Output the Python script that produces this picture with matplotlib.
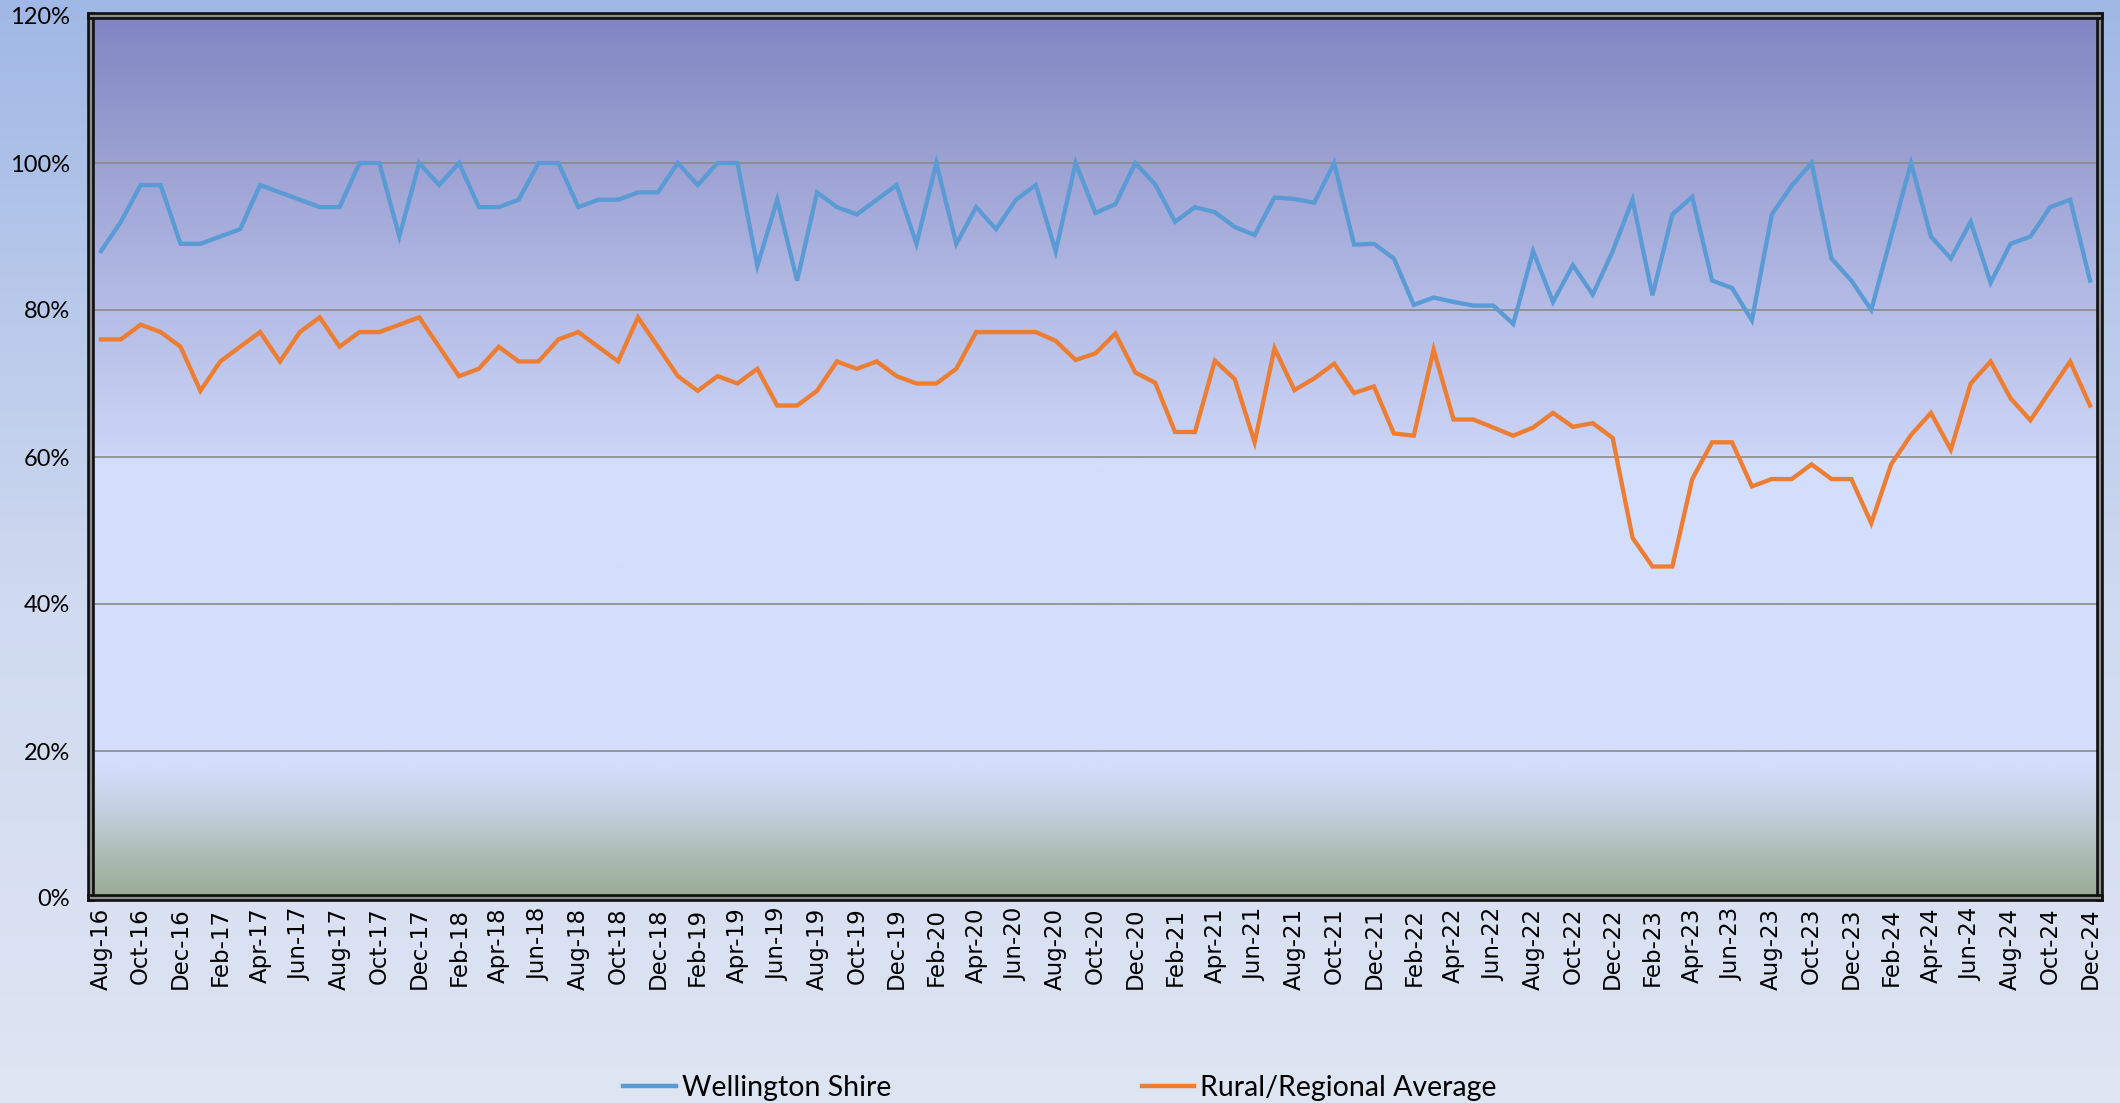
import numpy as np
import matplotlib
matplotlib.use("Agg")
import matplotlib.pyplot as plt
from matplotlib import patheffects as pe
from matplotlib.lines import Line2D

# ---------------- data ----------------
tick_labels = [
    "Aug-16", "Oct-16", "Dec-16", "Feb-17", "Apr-17", "Jun-17", "Aug-17", "Oct-17", "Dec-17",
    "Feb-18", "Apr-18", "Jun-18", "Aug-18", "Oct-18", "Dec-18",
    "Feb-19", "Apr-19", "Jun-19", "Aug-19", "Oct-19", "Dec-19",
    "Feb-20", "Apr-20", "Jun-20", "Aug-20", "Oct-20", "Dec-20",
    "Feb-21", "Apr-21", "Jun-21", "Aug-21", "Oct-21", "Dec-21",
    "Feb-22", "Apr-22", "Jun-22", "Aug-22", "Oct-22", "Dec-22",
    "Feb-23", "Apr-23", "Jun-23", "Aug-23", "Oct-23", "Dec-23",
    "Feb-24", "Apr-24", "Jun-24", "Aug-24", "Oct-24", "Dec-24",
]

wellington = [
    88, 92, 97, 97, 89, 89, 90, 91, 97, 96, 95, 94, 94, 100, 100, 90, 100, 97, 100, 94,
    94, 95, 100, 100, 94, 95, 95, 96, 96, 100, 97, 100, 100, 86, 95, 84, 96, 94, 93, 95,
    97, 89, 100, 89, 94, 91, 95, 97, 88, 100, 93.2, 94.4, 100, 97.1, 92, 94, 93.3, 91.3, 90.2, 95.3,
    95.1, 94.6, 100, 88.9, 89, 87, 80.7, 81.7, 81.1, 80.6, 80.6, 78.1, 88, 81.1, 86.1, 82.1, 88, 95, 82, 93,
    95.4, 84, 83, 78.6, 93, 96.9, 100, 87, 84, 80, 90, 100, 90, 87, 92, 83.7, 89, 90, 94, 95,
    84,
]

rural = [
    76, 76, 78, 77, 75, 69, 73, 75, 77, 73, 77, 79, 75, 77, 77, 78, 79, 75, 71, 72,
    75, 73, 73, 76, 77, 75, 73, 79, 75, 71, 69, 71, 70, 72, 67, 67, 69, 73, 72, 73,
    71, 70, 70, 72, 77, 77, 77, 77, 75.8, 73.2, 74.1, 76.8, 71.5, 70.1, 63.4, 63.4, 73.1, 70.6, 62.0, 74.8,
    69.1, 70.7, 72.7, 68.7, 69.6, 63.2, 62.9, 74.6, 65.1, 65.1, 64.0, 62.9, 64.0, 66.0, 64.1, 64.6, 62.6, 49, 45.1, 45.1,
    57, 62, 62, 56, 57, 57, 59, 57, 57, 51, 59, 63, 66, 61, 70, 73, 68, 65, 69, 73,
    67,
]

series_names = ["Wellington Shire", "Rural/Regional Average"]
series_colors = ["#5B9BD5", "#ED7D31"]
yticks = [0, 20, 40, 60, 80, 100, 120]

# ---------------- figure ----------------
W, H, DPI = 2120, 1103, 100
fig = plt.figure(figsize=(W / DPI, H / DPI), dpi=DPI)


def vgrad(stops, n=600):
    pos = np.array([s[0] for s in stops], dtype=float)
    cols = np.array([s[1] for s in stops], dtype=float) / 255.0
    t = np.linspace(pos.min(), pos.max(), n)
    img = np.stack([np.interp(t, pos, cols[:, k]) for k in range(3)], axis=-1)
    return img[:, None, :]


# figure background gradient
bg = fig.add_axes([0, 0, 1, 1], zorder=0)
bg.axis("off")
bg_stops = [(0.0, (222, 229, 243)), (0.45, (208, 218, 240)), (1.0, (160, 184, 229))]
bg.imshow(vgrad(bg_stops), aspect="auto", extent=(0, 1, 0, 1), origin="lower")
bg.set_xlim(0, 1)
bg.set_ylim(0, 1)

# plot area
left, right, top, bottom = 91 / W, 2100 / W, 1 - 16 / H, 1 - 898 / H
ax = fig.add_axes([left, bottom, right - left, top - bottom], zorder=1)

n = len(wellington)
x = np.arange(n)
ax.set_xlim(-0.5, n - 0.5)
ax.set_ylim(0, 120)

pa_stops = [
    (0, (152, 172, 148)),
    (6, (172, 189, 182)),
    (12, (196, 209, 224)),
    (18, (211, 222, 252)),
    (59.5, (211, 222, 252)),
    (60.5, (204, 213, 246)),
    (80, (181, 188, 230)),
    (100, (157, 162, 211)),
    (120, (128, 134, 194)),
]
ax.imshow(vgrad(pa_stops), aspect="auto", extent=(-0.5, n - 0.5, 0, 120),
          origin="lower", zorder=0)

ax.set_yticks(yticks)
ax.set_yticklabels([f"{v}%" for v in yticks], fontfamily="Lato", fontsize=17)
ax.set_xticks(x[::2])
ax.set_xticklabels(tick_labels, rotation=90, fontfamily="DejaVu Sans", fontsize=16.5)
ax.tick_params(axis="y", length=0, pad=15, colors="black")
ax.tick_params(axis="x", length=0, pad=7, colors="black")
ax.set_axisbelow(True)
ax.yaxis.grid(True, color="#8a8a8a", linewidth=1.2)
ax.xaxis.grid(False)

for vals, name, col in zip([wellington, rural], series_names, series_colors):
    ax.plot(x, vals, color=col, linewidth=3.1, solid_joinstyle="miter", zorder=3, label=name)

for sp in ax.spines.values():
    sp.set_linewidth(1.0)
    sp.set_color("black")
    sp.set_path_effects([pe.Stroke(linewidth=5.5, foreground="#111111"),
                         pe.Stroke(linewidth=1.6, foreground="#8f8f8f")])
    sp.set_zorder(5)

handles = [Line2D([], [], color=c, linewidth=3.2) for c in series_colors]
fig.legend(handles, series_names, loc="center", bbox_to_anchor=(0.5, 0.014), ncol=2,
           frameon=False, prop={"family": "Lato", "size": 20.5}, handlelength=1.85,
           handletextpad=0.2, columnspacing=8.8)

fig.savefig("out.png", dpi=DPI)
